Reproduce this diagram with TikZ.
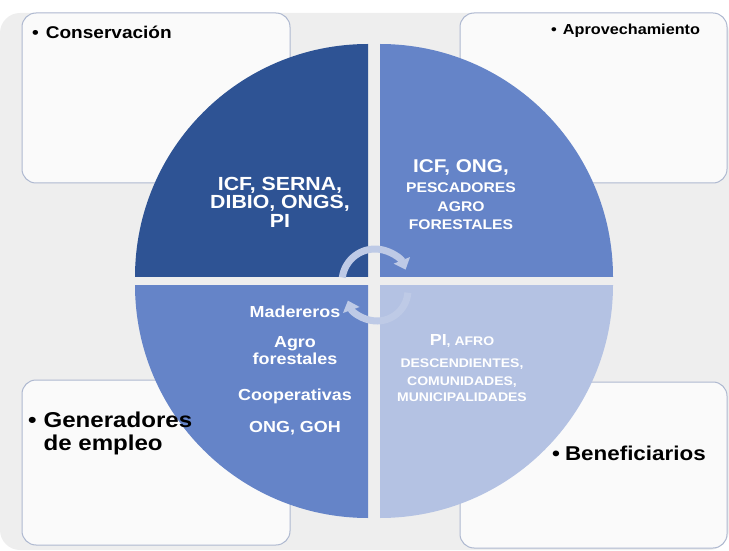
\documentclass[tikz,border=0pt]{standalone}
\usepackage{fontspec}
\setmainfont{Liberation Sans}[FakeStretch=1.12]
\usetikzlibrary{arrows.meta}
\definecolor{bggray}{HTML}{EEEEEE}
\definecolor{boxfill}{HTML}{FAFAFA}
\definecolor{boxline}{HTML}{AEB8D0}
\definecolor{qdark}{HTML}{2E5394}
\definecolor{qmid}{HTML}{6584C8}
\definecolor{qlight}{HTML}{B4C2E3}
\definecolor{turncol}{HTML}{BECAE6}
\tikzstyle{box} = [fill=boxfill,draw=boxline,line width=1pt,rounded corners=14pt]
\tikzstyle{qtext} = [text=white,align=center,inner sep=0pt]
\tikzstyle{btext} = [text=black,inner sep=0pt,anchor=base west]
\tikzstyle{turn} = [color=turncol,line width=7pt,-{Triangle[width=17pt,length=10pt]}]

\begin{document}
\begin{tikzpicture}[x=1pt,y=1pt]
            \useasboundingbox (0,0) rectangle (729,550);
            % background and boxes
            \fill [bggray,rounded corners=20pt] (0,0) rectangle (729,537);
            \draw [box] (22,367) rectangle (290,537);
            \draw [box] (460,367) rectangle (727,537);
            \draw [box] (22,5) rectangle (290,170);
            \draw [box] (460,2) rectangle (727,168);
            % quarters
            \fill [qdark] (368,273) -- (135,273) arc[start angle=180,end angle=90,radius=233] -- cycle;
            \fill [qmid] (380,273) -- (380,506) arc[start angle=90,end angle=0,radius=233] -- cycle;
            \fill [qmid] (368,265) -- (368,32) arc[start angle=270,end angle=180,radius=233] -- cycle;
            \fill [qlight] (380,265) -- (613,265) arc[start angle=0,end angle=-90,radius=233] -- cycle;
            % turning arrows
            \draw [turn] (375,268) ++(172:33) arc[start angle=172,end angle=22,radius=33];
            \draw [turn] (377,260) ++(-5:31) arc[start angle=-5,end angle=-160,radius=31];
            % texts in the quarters
            \node [qtext,font=\bfseries\fontsize{19}{18.5}\selectfont] (conserv) at (280,348) {ICF, SERNA,\\DIBIO, ONGS,\\PI};
            \node [qtext,font=\bfseries\fontsize{14}{18.5}\selectfont] (aprov) at (461,355) {{\fontsize{18.5}{18.5}\selectfont ICF, ONG,}\\[1.5pt]PESCADORES\\AGRO\\FORESTALES};
            \node [qtext,font=\bfseries\fontsize{16}{17}\selectfont] (empleo) at (295,180) {Madereros\\[13pt]Agro\\forestales\\[19pt]Cooperativas\\[15pt]ONG, GOH};
            \node [qtext,font=\bfseries\fontsize{12.5}{18}\selectfont] (benef) at (462,182) {{\fontsize{16}{18}\selectfont PI}, AFRO\\[4pt]DESCENDIENTES,\\COMUNIDADES,\\[-2pt]MUNICIPALIDADES};
            % texts in the boxes
            \node [btext,font=\bfseries\fontsize{17}{19}\selectfont] (conservlab) at (32,511) {•\hspace{7pt}Conservación};
            \node [btext,font=\bfseries\fontsize{14.5}{17}\selectfont] (aprovlab) at (551,515) {•\hspace{6pt}Aprovechamiento};
            \node [btext,font=\bfseries\fontsize{21.5}{23}\selectfont] (empleolab) at (28,100) {\begin{tabular}[b]{@{}l@{\hspace{7pt}}l@{}}•&Generadores\\&de empleo\end{tabular}};
            \node [btext,font=\bfseries\fontsize{20}{23}\selectfont] (beneflab) at (552,90) {•\hspace{5pt}Beneficiarios};
        \end{tikzpicture}
\end{document}
